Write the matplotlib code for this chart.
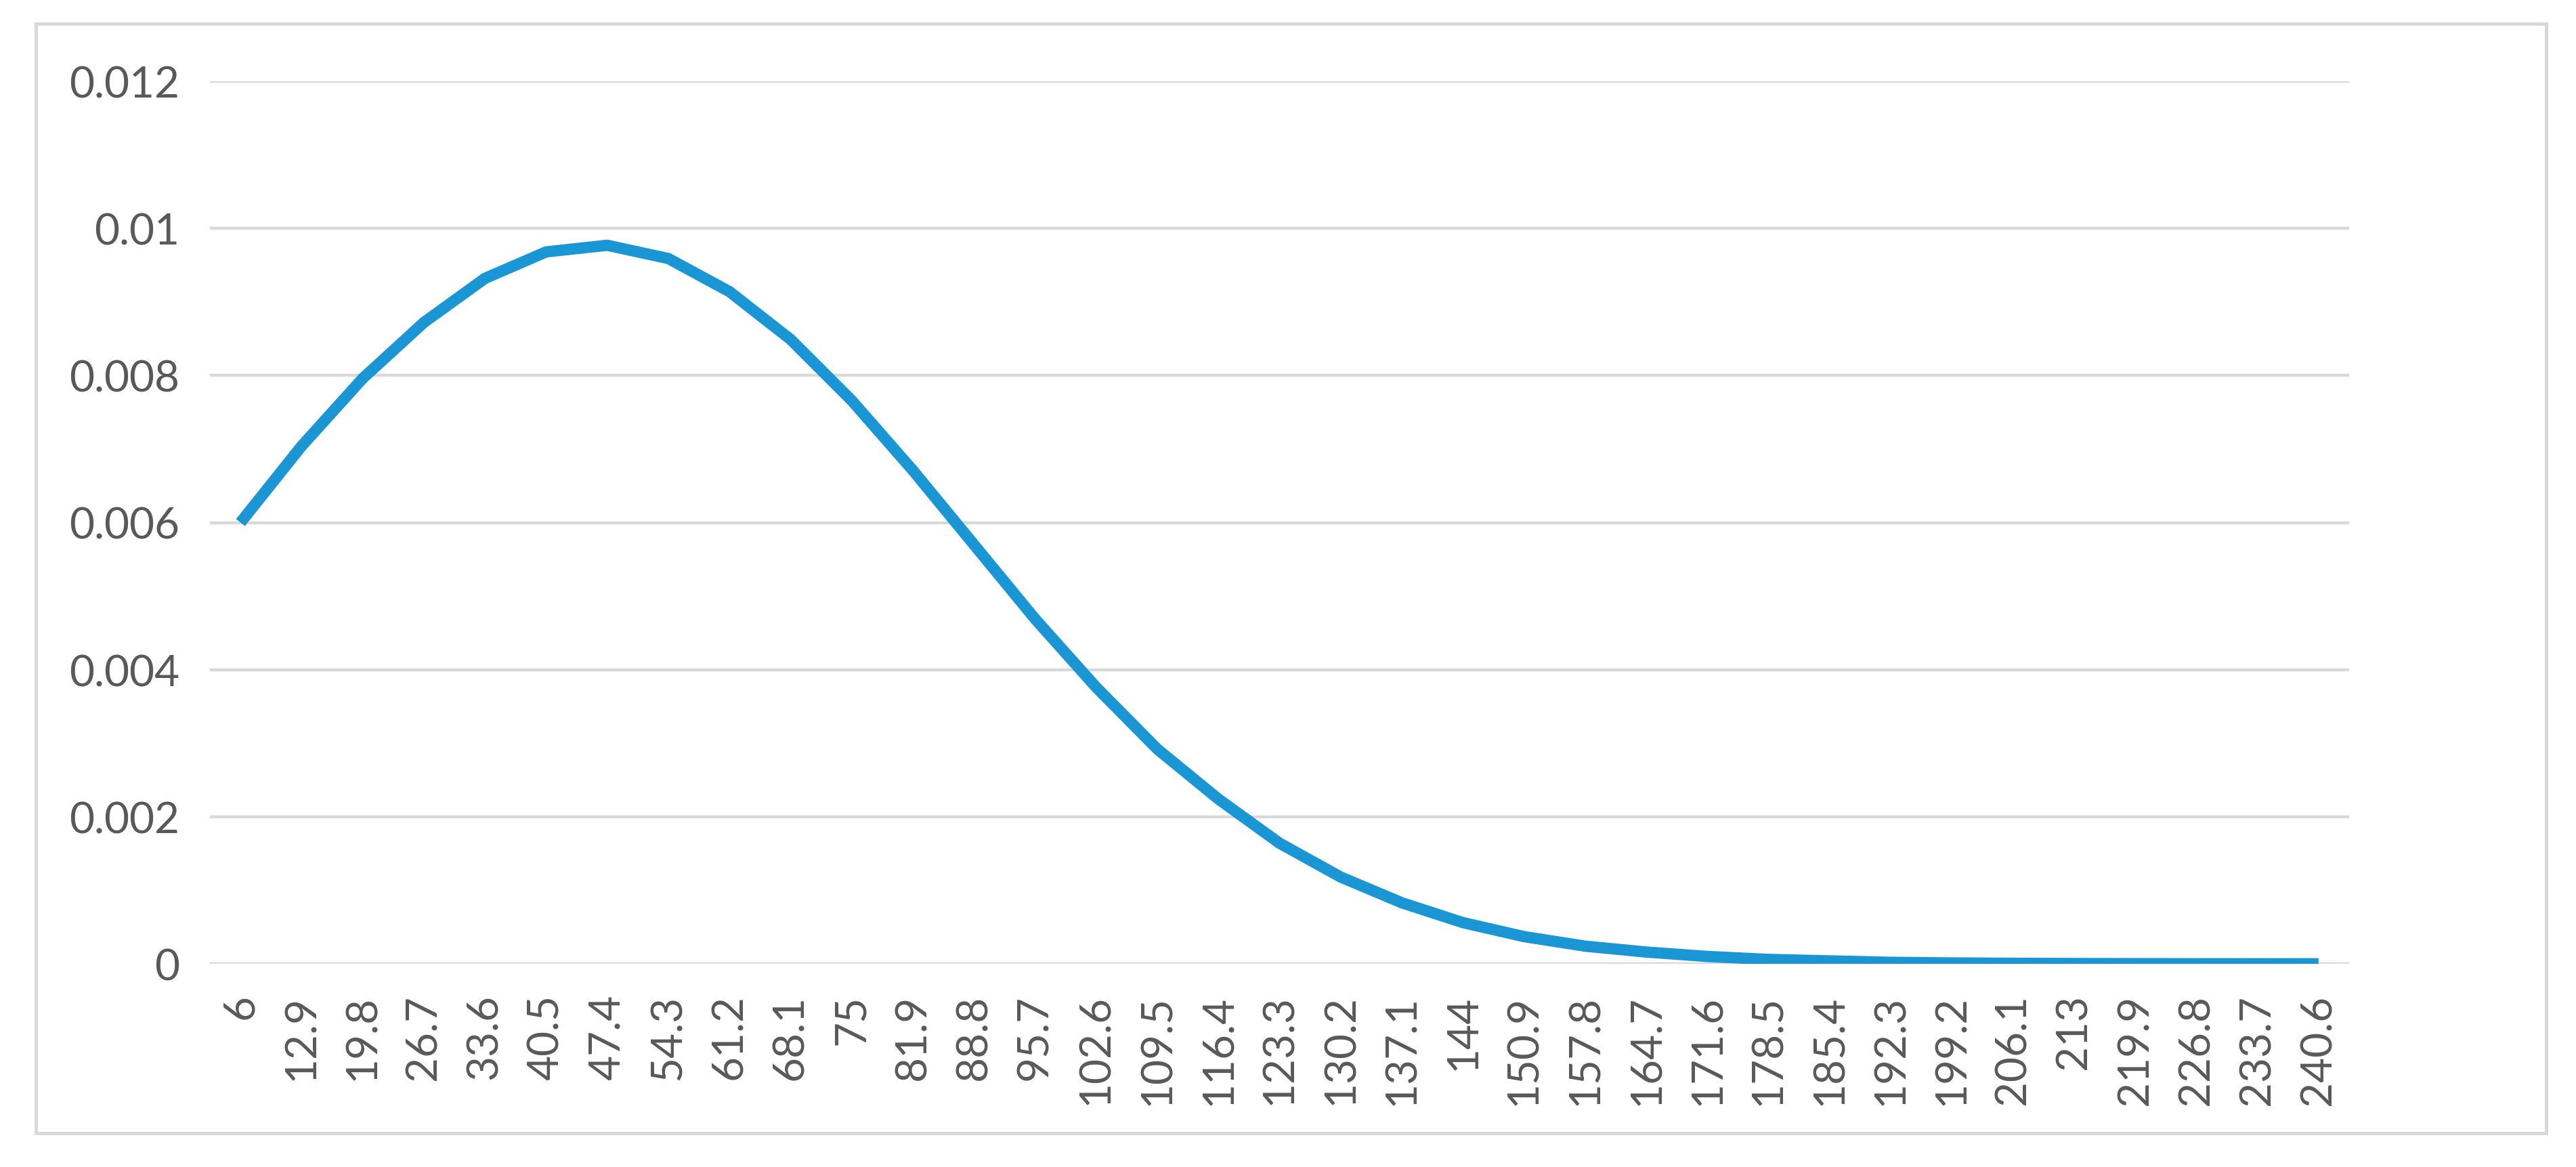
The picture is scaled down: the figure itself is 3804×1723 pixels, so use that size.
import matplotlib

matplotlib.use("Agg")
import matplotlib.pyplot as plt
from matplotlib.patches import Rectangle

# Category labels along the x axis (step 6.9)
categories = [
    "6", "12.9", "19.8", "26.7", "33.6", "40.5", "47.4", "54.3", "61.2", "68.1",
    "75", "81.9", "88.8", "95.7", "102.6", "109.5", "116.4", "123.3", "130.2",
    "137.1", "144", "150.9", "157.8", "164.7", "171.6", "178.5", "185.4",
    "192.3", "199.2", "206.1", "213", "219.9", "226.8", "233.7", "240.6",
]

# Values
values = [
    0.00600, 0.00704, 0.00796, 0.00872, 0.00932, 0.00968, 0.00977, 0.00959,
    0.00914, 0.00849, 0.00766, 0.00671, 0.00570, 0.00469, 0.00376, 0.00292,
    0.00224, 0.00164, 0.00118, 0.00083, 0.00056, 0.00037, 0.00024, 0.00016,
    0.00010, 0.00006, 0.00004, 0.00002, 0.000012, 0.000007, 0.000004,
    0.000002, 0.000001, 0.0000005, 0.0000002,
]

y_ticks = [0, 0.002, 0.004, 0.006, 0.008, 0.010, 0.012]
y_tick_labels = ["0", "0.002", "0.004", "0.006", "0.008", "0.01", "0.012"]

plt.rcParams["font.family"] = ["Lato", "DejaVu Sans"]

fig = plt.figure(figsize=(19.02, 8.62), dpi=200)

# Light grey frame around the chart, like an Excel chart area
W, H = 3804, 1724
fig.patches.append(
    Rectangle(
        (53 / W, 1 - 1674 / H),
        (3760 - 53) / W,
        (1674 - 36) / H,
        transform=fig.transFigure,
        fill=False,
        edgecolor="#D9D9D9",
        linewidth=1.8,
    )
)

ax = fig.add_axes([310 / W, 300 / H, (3469 - 310) / W, (1603 - 300) / H])

x = list(range(len(categories)))
ax.plot(x, values, color="#1A96D4", linewidth=6, solid_capstyle="butt",
        solid_joinstyle="round", zorder=3)

ax.set_xlim(-0.5, len(categories) - 0.5)
ax.set_ylim(0, 0.012)
ax.set_yticks(y_ticks)
ax.set_yticklabels(y_tick_labels)
ax.set_xticks(x)
ax.set_xticklabels(categories, rotation=90)

ax.grid(axis="y", color="#D9D9D9", linewidth=1.6, zorder=0)
ax.grid(axis="x", visible=False)
for side in ["top", "right", "left", "bottom"]:
    ax.spines[side].set_visible(False)
ax.tick_params(axis="both", length=0, labelsize=23, labelcolor="#595959")
ax.tick_params(axis="y", pad=16)
ax.tick_params(axis="x", pad=16)

plt.savefig("out.png", dpi=200, facecolor="white")
plt.close()
